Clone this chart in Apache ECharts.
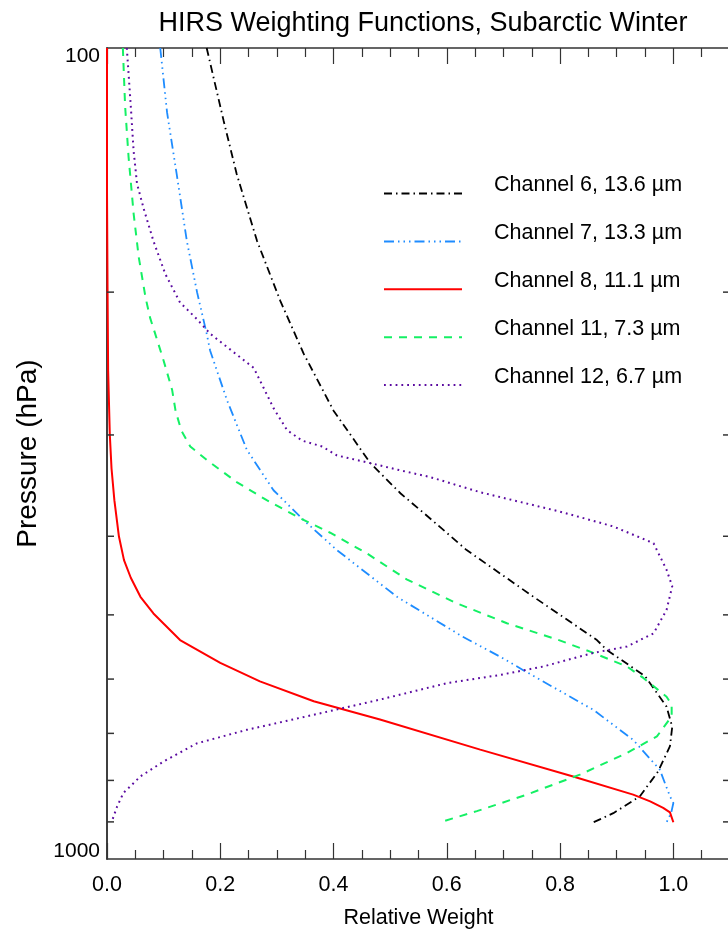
<!DOCTYPE html>
<html><head><meta charset="utf-8">
<script src="https://cdn.jsdelivr.net/npm/echarts@6/dist/echarts.min.js"></script>
<style>html,body{margin:0;padding:0;background:#fff}#c{width:728px;height:934px}</style>
</head><body><div id="c"></div>
<script>
const FONT = "'Liberation Sans',Arial,Helvetica,sans-serif";
const titleText = 'HIRS Weighting Functions, Subarctic Winter';
const xName = 'Relative Weight';
const yName = 'Pressure (hPa)';
const yMinorTicks = [200, 300, 400, 500, 600, 700, 800, 900];
const channelNames = ['Channel 6, 13.6 \u00b5m', 'Channel 7, 13.3 \u00b5m', 'Channel 8, 11.1 \u00b5m', 'Channel 11, 7.3 \u00b5m', 'Channel 12, 6.7 \u00b5m'];

const ch6P = [100,123,143,173,205,238,280,325,354,380,416,475,537,552,595,649,687,726,780,837,878,901];
const ch6W = [0.176,0.206,0.229,0.265,0.306,0.347,0.400,0.465,0.518,0.570,0.635,0.753,0.865,0.882,0.950,0.988,0.998,0.994,0.973,0.941,0.894,0.859];

const ch7P = [100,120,143,173,200,225,236,272,313,351,382,416,475,532,563,585,598,655,713,776,837,853,878,901];
const ch7W = [0.094,0.106,0.123,0.141,0.159,0.176,0.182,0.212,0.247,0.294,0.347,0.406,0.512,0.628,0.694,0.735,0.759,0.859,0.929,0.976,0.994,1.000,0.996,0.988];

const ch8P = [100,150,200,250,300,330,361,400,428,450,475,498,537,573,604,639,673,733,791,833,849,865,876,901];
const ch8W = [0.000,0.000,0.001,0.002,0.005,0.008,0.013,0.021,0.030,0.042,0.059,0.082,0.129,0.200,0.270,0.365,0.482,0.659,0.823,0.929,0.959,0.982,0.994,1.000];

const ch11P = [100,118,136,160,181,203,215,225,243,264,280,296,310,322,343,361,380,396,420,452,484,512,536,555,579,598,631,645,667,706,740,787,833,873,901];
const ch11W = [0.028,0.032,0.038,0.047,0.056,0.068,0.076,0.085,0.100,0.115,0.121,0.131,0.147,0.176,0.229,0.282,0.341,0.394,0.459,0.529,0.618,0.706,0.794,0.853,0.918,0.947,0.988,0.997,0.997,0.971,0.918,0.835,0.741,0.653,0.588];

const ch12P = [100,118,134,147,158,173,190,206,216,225,237,248,262,278,296,305,310,318,325,332,338,353,373,389,408,440,461,493,527,547,557,579,593,607,636,664,693,720,758,791,829,861,897];
const ch12W = [0.035,0.042,0.047,0.053,0.065,0.082,0.103,0.129,0.159,0.182,0.223,0.259,0.276,0.294,0.318,0.345,0.380,0.406,0.465,0.520,0.570,0.659,0.800,0.894,0.965,0.988,0.998,0.988,0.965,0.918,0.859,0.770,0.694,0.600,0.482,0.365,0.247,0.159,0.100,0.059,0.029,0.018,0.009];

const channels = [
  {name: channelNames[0], p: ch6P, w: ch6W, color: '#000000', type: [8, 4, 1.5, 4], width: 1.8},
  {name: channelNames[1], p: ch7P, w: ch7W, color: '#1e8cff', type: [10, 4, 1.5, 4, 1.5, 4, 1.5, 4], width: 1.8},
  {name: channelNames[2], p: ch8P, w: ch8W, color: '#ff0000', type: 'solid', width: 2},
  {name: channelNames[3], p: ch11P, w: ch11W, color: '#14f064', type: [8, 7], width: 2},
  {name: channelNames[4], p: ch12P, w: ch12W, color: '#5a0aa0', type: [1.8, 4], width: 2}
];

const X_MIN = 0, X_MAX = 1.1;
const AX = '#333333';

const chart = echarts.init(document.getElementById('c'));

const lineSeries = channels.map(c => ({
  name: c.name,
  type: 'line',
  data: c.p.map((p, i) => [c.w[i], p]),
  showSymbol: false,
  symbol: 'none',
  smooth: false,
  lineStyle: {color: c.color, width: c.width, type: c.type},
  itemStyle: {color: c.color},
  clip: true,
  z: 3
}));

const tickSeries = {
  type: 'custom',
  silent: true,
  z: 4,
  data: yMinorTicks.map(v => [X_MIN, v]),
  renderItem: (params, api) => {
    const p = api.value(1);
    const a = api.coord([X_MIN, p]);
    const b = api.coord([X_MAX, p]);
    return {
      type: 'group',
      children: [
        {type: 'line', shape: {x1: a[0], y1: a[1], x2: a[0] + 7, y2: a[1]}, style: {stroke: AX, lineWidth: 1.5}},
        {type: 'line', shape: {x1: b[0] - 7, y1: b[1], x2: b[0], y2: b[1]}, style: {stroke: AX, lineWidth: 1.5}}
      ]
    };
  }
};

const xCommon = {
  type: 'value', min: X_MIN, max: X_MAX, interval: 0.2,
  axisLine: {show: true, lineStyle: {color: AX, width: 1.5}},
  axisTick: {show: true, inside: true, length: 16, lineStyle: {color: AX, width: 1.2}},
  minorTick: {show: true, splitNumber: 4, length: 9, lineStyle: {color: AX, width: 1.2}},
  splitLine: {show: false}, minorSplitLine: {show: false}
};

chart.setOption({
  animation: false,
  backgroundColor: '#ffffff',
  title: {
    text: titleText, left: 418, top: 5, textAlign: 'center',
    textStyle: {fontFamily: FONT, fontSize: 27, fontWeight: 'normal', color: '#000'}
  },
  legend: {
    data: channelNames,
    orient: 'vertical', left: 378, top: 169,
    itemWidth: 78, itemHeight: 14, itemGap: 22.8,
    itemStyle: {opacity: 0},
    formatter: n => '{t|' + n + '}',
    textStyle: {
      fontFamily: FONT, fontSize: 21.5, color: '#000',
      rich: {t: {fontFamily: FONT, fontSize: 21.5, color: '#000', padding: [0, 0, 17, 27]}}
    },
    selectedMode: false
  },
  grid: {left: 107, top: 48, width: 623, height: 811, containLabel: false, outerBoundsMode: 'none'},
  xAxis: [
    Object.assign({}, xCommon, {
      position: 'bottom',
      name: xName, nameLocation: 'middle', nameGap: 48,
      nameTextStyle: {fontFamily: FONT, fontSize: 21.5, color: '#000'},
      axisLabel: {
        show: true, margin: 15, fontFamily: FONT, fontSize: 21.5, color: '#000',
        formatter: v => (v > 1.05 ? '' : v.toFixed(1))
      }
    }),
    Object.assign({}, xCommon, {position: 'top', axisLabel: {show: false}})
  ],
  yAxis: [
    {
      type: 'log', logBase: 10, min: 100, max: 1000, inverse: true, position: 'left',
      name: yName, nameLocation: 'middle', nameGap: 53, nameRotate: 90,
      nameTextStyle: {fontFamily: FONT, fontSize: 28, color: '#000'},
      axisLine: {show: true, lineStyle: {color: AX, width: 1.5}},
      axisTick: {show: false},
      axisLabel: {
        show: true, margin: 7, fontFamily: FONT, fontSize: 21, color: '#000',
        formatter: v => (v < 500 ? '{t|' + String(v) + '}' : '{b|' + String(v) + '}'),
        rich: {
          t: {fontFamily: FONT, fontSize: 21, color: '#000', padding: [16, 0, 0, 0]},
          b: {fontFamily: FONT, fontSize: 21, color: '#000', padding: [0, 0, 16, 0]}
        }
      },
      splitLine: {show: false}
    },
    {
      type: 'log', logBase: 10, min: 100, max: 1000, inverse: true, position: 'right',
      axisLine: {show: true, lineStyle: {color: AX, width: 1.5}},
      axisTick: {show: false}, axisLabel: {show: false}, splitLine: {show: false}
    }
  ],
  series: lineSeries.concat([tickSeries])
});
</script></body></html>
